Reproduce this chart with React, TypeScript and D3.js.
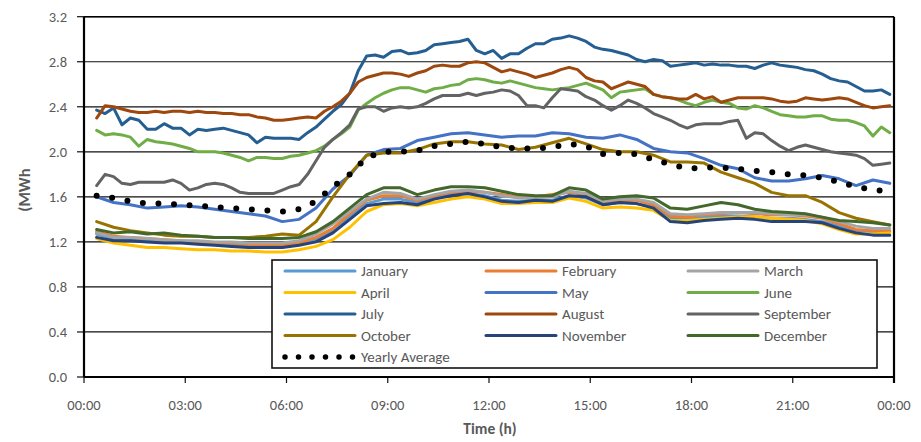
import React from "react";
import * as d3 from "d3";

// Sampling grids (hours after midnight): half-hourly and quarter-hourly
const halfHours: number[] = d3.range(48).map((i) => 0.375 + 0.5 * i);
const quarterHours: number[] = d3.range(95).map((i) => 0.375 + 0.25 * i);

// Average hourly consumption per month (MWh)
const january = [1.27,1.23,1.22,1.21,1.20,1.20,1.19,1.18,1.17,1.17,1.16,1.17,1.18,1.22,1.30,1.43,1.54,1.58,1.58,1.55,1.59,1.62,1.63,1.61,1.57,1.56,1.57,1.57,1.61,1.59,1.53,1.55,1.54,1.51,1.41,1.40,1.42,1.43,1.43,1.42,1.41,1.41,1.40,1.38,1.34,1.30,1.29,1.29];
const february = [1.29,1.25,1.24,1.23,1.22,1.21,1.20,1.19,1.19,1.18,1.17,1.17,1.19,1.24,1.32,1.45,1.57,1.61,1.61,1.57,1.61,1.64,1.65,1.64,1.62,1.60,1.60,1.62,1.64,1.62,1.55,1.57,1.57,1.53,1.43,1.42,1.44,1.45,1.46,1.45,1.44,1.44,1.43,1.41,1.36,1.31,1.30,1.30];
const march = [1.28,1.24,1.24,1.23,1.22,1.21,1.21,1.20,1.20,1.19,1.19,1.19,1.21,1.27,1.36,1.47,1.58,1.64,1.63,1.58,1.62,1.65,1.66,1.64,1.61,1.59,1.59,1.60,1.65,1.63,1.56,1.58,1.58,1.55,1.45,1.44,1.45,1.46,1.46,1.46,1.45,1.44,1.44,1.42,1.38,1.34,1.32,1.32];
const april = [1.23,1.19,1.17,1.15,1.15,1.14,1.13,1.13,1.12,1.12,1.11,1.11,1.13,1.16,1.22,1.33,1.47,1.53,1.54,1.52,1.55,1.58,1.60,1.58,1.54,1.54,1.55,1.55,1.59,1.56,1.50,1.51,1.50,1.48,1.39,1.39,1.40,1.41,1.42,1.42,1.41,1.40,1.39,1.36,1.31,1.27,1.27,1.28];
const may = [1.60,1.55,1.53,1.50,1.51,1.52,1.51,1.49,1.47,1.45,1.43,1.38,1.40,1.50,1.67,1.79,1.97,2.02,2.03,2.10,2.13,2.16,2.17,2.15,2.13,2.14,2.14,2.17,2.16,2.13,2.12,2.15,2.11,2.03,2.00,1.99,1.94,1.88,1.85,1.77,1.74,1.74,1.76,1.79,1.76,1.70,1.75,1.72];
const june = [2.19,2.15,2.16,2.15,2.13,2.05,2.11,2.09,2.08,2.07,2.05,2.03,2.00,2.00,2.00,1.99,1.97,1.95,1.92,1.95,1.95,1.94,1.94,1.96,1.97,1.99,2.01,2.05,2.11,2.16,2.22,2.37,2.43,2.48,2.52,2.55,2.57,2.57,2.55,2.53,2.56,2.57,2.59,2.60,2.64,2.65,2.64,2.62,2.61,2.63,2.61,2.59,2.57,2.56,2.55,2.56,2.57,2.59,2.61,2.58,2.55,2.48,2.53,2.54,2.55,2.56,2.51,2.49,2.48,2.46,2.43,2.41,2.44,2.46,2.44,2.43,2.39,2.38,2.41,2.39,2.36,2.33,2.32,2.31,2.31,2.32,2.32,2.29,2.28,2.28,2.26,2.23,2.14,2.22,2.17];
const july = [2.37,2.34,2.39,2.24,2.30,2.28,2.20,2.20,2.25,2.21,2.21,2.15,2.20,2.19,2.20,2.21,2.19,2.17,2.15,2.08,2.13,2.12,2.12,2.12,2.11,2.17,2.22,2.29,2.36,2.42,2.52,2.72,2.85,2.86,2.84,2.89,2.90,2.87,2.88,2.90,2.95,2.96,2.97,2.98,3.00,2.90,2.87,2.90,2.83,2.87,2.87,2.92,2.96,2.96,3.00,3.01,3.03,3.01,2.98,2.93,2.91,2.90,2.88,2.86,2.82,2.80,2.82,2.81,2.76,2.77,2.78,2.79,2.77,2.78,2.77,2.77,2.76,2.76,2.74,2.77,2.79,2.77,2.76,2.75,2.73,2.72,2.69,2.65,2.63,2.62,2.58,2.54,2.54,2.55,2.51];
const august = [2.30,2.41,2.40,2.38,2.36,2.35,2.35,2.36,2.35,2.36,2.36,2.35,2.36,2.35,2.35,2.34,2.34,2.33,2.33,2.31,2.30,2.28,2.28,2.29,2.30,2.31,2.30,2.36,2.40,2.45,2.52,2.62,2.66,2.68,2.70,2.70,2.69,2.67,2.70,2.72,2.76,2.77,2.76,2.76,2.79,2.80,2.79,2.75,2.71,2.73,2.71,2.69,2.66,2.68,2.70,2.73,2.75,2.73,2.66,2.63,2.62,2.56,2.59,2.62,2.60,2.58,2.51,2.49,2.48,2.47,2.47,2.51,2.47,2.49,2.44,2.46,2.48,2.48,2.48,2.48,2.47,2.45,2.44,2.45,2.48,2.47,2.46,2.47,2.48,2.47,2.44,2.41,2.39,2.40,2.41];
const september = [1.70,1.80,1.78,1.72,1.71,1.73,1.73,1.73,1.73,1.75,1.72,1.66,1.68,1.71,1.72,1.71,1.68,1.64,1.63,1.63,1.63,1.63,1.66,1.69,1.71,1.80,1.92,2.04,2.11,2.17,2.24,2.38,2.40,2.40,2.36,2.39,2.40,2.39,2.40,2.43,2.47,2.50,2.50,2.50,2.52,2.50,2.52,2.53,2.55,2.54,2.50,2.41,2.41,2.39,2.48,2.56,2.55,2.54,2.49,2.46,2.41,2.37,2.41,2.46,2.43,2.39,2.34,2.31,2.28,2.24,2.21,2.24,2.25,2.25,2.25,2.27,2.28,2.12,2.17,2.16,2.10,2.05,2.01,2.04,2.06,2.04,2.02,2.00,1.99,1.98,1.97,1.94,1.88,1.89,1.90];
const october = [1.38,1.33,1.30,1.28,1.26,1.25,1.25,1.24,1.24,1.24,1.25,1.27,1.26,1.38,1.60,1.80,1.97,1.99,1.99,2.02,2.07,2.09,2.09,2.07,2.06,2.02,2.04,2.08,2.12,2.07,2.02,2.00,2.00,1.97,1.91,1.91,1.90,1.82,1.77,1.72,1.64,1.61,1.61,1.55,1.46,1.41,1.38,1.35];
const november = [1.24,1.21,1.21,1.20,1.19,1.19,1.18,1.17,1.16,1.15,1.15,1.15,1.17,1.20,1.28,1.40,1.52,1.54,1.55,1.53,1.58,1.61,1.63,1.60,1.56,1.55,1.57,1.56,1.61,1.60,1.53,1.55,1.54,1.50,1.38,1.37,1.39,1.40,1.41,1.40,1.38,1.38,1.38,1.37,1.32,1.28,1.26,1.26];
const december = [1.31,1.28,1.29,1.27,1.28,1.26,1.25,1.24,1.24,1.23,1.23,1.23,1.24,1.29,1.38,1.50,1.62,1.68,1.68,1.62,1.66,1.69,1.69,1.68,1.65,1.62,1.61,1.61,1.68,1.66,1.58,1.60,1.61,1.59,1.50,1.49,1.52,1.55,1.53,1.49,1.47,1.46,1.45,1.42,1.39,1.38,1.37,1.35];
const yearlyAverage = [1.61,1.59,1.56,1.54,1.54,1.53,1.52,1.51,1.50,1.49,1.48,1.47,1.49,1.56,1.69,1.80,1.95,2.00,2.00,2.01,2.05,2.07,2.09,2.07,2.04,2.03,2.03,2.04,2.07,2.05,1.98,1.99,1.98,1.93,1.89,1.85,1.86,1.86,1.85,1.83,1.82,1.80,1.79,1.77,1.73,1.69,1.66,1.65];

const monthNames = ["January","February","March","April","May","June","July","August","September","October","November","December"];
const monthValues = [january,february,march,april,may,june,july,august,september,october,november,december];
const monthColors = ["#5B9BD5","#ED7D31","#A5A5A5","#FFC000","#4472C4","#70AD47","#255E91","#9E480E","#636363","#997300","#264478","#43682B"];

const yTicks = [0, 0.4, 0.8, 1.2, 1.6, 2.0, 2.4, 2.8, 3.2];
const xTickHours = [0, 3, 6, 9, 12, 15, 18, 21, 24];
const xTickLabels = ["00:00","03:00","06:00","09:00","12:00","15:00","18:00","21:00","00:00"];

const FONT = "Carlito, Lato, 'Open Sans', sans-serif";
const TEXT = "#595959";

const gridFor = (vals: number[]) => (vals.length === quarterHours.length ? quarterHours : halfHours);

export default function App() {
  const W = 921, H = 442;
  const left = 84, right = 894, top = 16.7, bottom = 377;
  const x = d3.scaleLinear().domain([0, 24]).range([left, right]);
  const y = d3.scaleLinear().domain([0, 3.2]).range([bottom, top]);

  const pathOf = (vals: number[]) => {
    const grid = gridFor(vals);
    return d3.line<number>().x((_, i) => x(grid[i])).y((v) => y(v))(vals) || "";
  };

  // legend geometry
  const lgX = 272, lgY = 260, lgW = 605, lgH = 108;
  const colX = [285, 486, 688];
  const rowY = [271, 292.5, 314, 335.5, 357];
  const sampleLen = 70;

  return (
    <div>
      <style>{"body{margin:0}"}</style>
      <svg width={W} height={H} style={{ display: "block" }}>
        <rect x={0} y={0} width={W} height={H} fill="#fff" />

        {/* horizontal gridlines */}
        {yTicks.map((t) => (
          <line key={"g" + t} x1={left} x2={right} y1={y(t)} y2={y(t)} stroke="#111" strokeWidth={1.2} />
        ))}

        {/* y ticks and labels */}
        {yTicks.map((t) => (
          <g key={"y" + t}>
            <line x1={left - 7} x2={left} y1={y(t)} y2={y(t)} stroke="#111" strokeWidth={1.2} />
            <text x={67} y={y(t)} dy="0.35em" textAnchor="end" fontFamily={FONT} fontSize={14.5} fill={TEXT}>
              {d3.format(".1f")(t)}
            </text>
          </g>
        ))}

        {/* x ticks and labels */}
        {xTickHours.map((h, i) => (
          <g key={"x" + i}>
            <line x1={x(h)} x2={x(h)} y1={bottom} y2={bottom + 6} stroke="#111" strokeWidth={1.2} />
            <text x={x(h)} y={410} textAnchor="middle" fontFamily={FONT} fontSize={14.5} fill={TEXT}>
              {xTickLabels[i]}
            </text>
          </g>
        ))}

        {/* monthly profiles */}
        {monthValues.map((vals, i) => (
          <path key={monthNames[i]} d={pathOf(vals)} fill="none" stroke={monthColors[i]}
            strokeWidth={3} strokeLinejoin="round" strokeLinecap="round" />
        ))}

        {/* yearly average as round dots */}
        <path d={pathOf(yearlyAverage)} fill="none" stroke="#000" strokeWidth={6}
          strokeLinecap="round" strokeDasharray="0 15.6" />

        {/* plot border */}
        <line x1={left} x2={left} y1={top} y2={bottom} stroke="#000" strokeWidth={2.2} />
        <line x1={right} x2={right} y1={top} y2={bottom + 6} stroke="#000" strokeWidth={2.2} />
        <line x1={left} x2={right} y1={bottom} y2={bottom} stroke="#000" strokeWidth={2.2} />
        <line x1={left} x2={right} y1={top} y2={top} stroke="#000" strokeWidth={1.6} />

        {/* legend */}
        <rect x={lgX} y={lgY} width={lgW} height={lgH} fill="#fff" stroke="#111" strokeWidth={1.6} />
        {monthNames.map((name, i) => {
          const cx = colX[i % 3];
          const cy = rowY[Math.floor(i / 3)];
          return (
            <g key={"l" + name}>
              <line x1={cx} x2={cx + sampleLen} y1={cy} y2={cy} stroke={monthColors[i]} strokeWidth={3} strokeLinecap="round" />
              <text x={cx + 76} y={cy} dy="0.35em" fontFamily={FONT} fontSize={15} fill={TEXT}>{name}</text>
            </g>
          );
        })}
        <line x1={colX[0]} x2={colX[0] + 68} y1={rowY[4]} y2={rowY[4]} stroke="#000" strokeWidth={5.5}
          strokeLinecap="round" strokeDasharray="0 13.5" />
        <text x={colX[0] + 76} y={rowY[4]} dy="0.35em" fontFamily={FONT} fontSize={15} fill={TEXT}>Yearly Average</text>

        {/* axis titles */}
        <text x={490} y={434} textAnchor="middle" fontFamily={FONT} fontSize={15.5} fontWeight="bold" fill={TEXT}>Time (h)</text>
        <text transform="translate(30,190) rotate(-90)" textAnchor="middle" fontFamily={FONT} fontSize={16.5} fontWeight="bold" fill={TEXT}>(MWh</text>
      </svg>
    </div>
  );
}
